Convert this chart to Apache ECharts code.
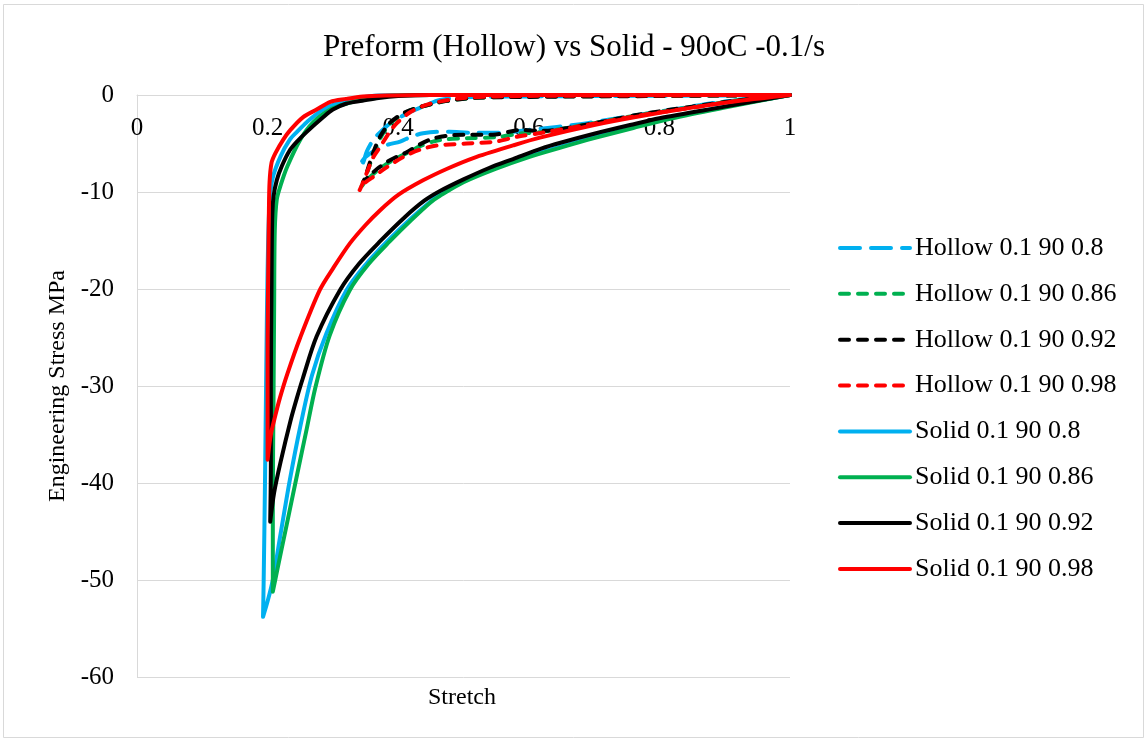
<!DOCTYPE html>
<html>
<head>
<meta charset="utf-8">
<script src="https://cdn.jsdelivr.net/npm/echarts@6/dist/echarts.min.js"></script>
<style>
  html, body { margin: 0; padding: 0; background: #ffffff; }
  #chart { width: 1148px; height: 743px; }
</style>
</head>
<body>
<div id="chart"></div>
<script>
// ---- Data (stretch, engineering stress MPa) ----
var titleText = 'Preform (Hollow) vs Solid - 90oC -0.1/s';
var xAxisName = 'Stretch';
var yAxisName = 'Engineering Stress MPa';
var seriesNames = [
  'Hollow 0.1 90 0.8', 'Hollow 0.1 90 0.86', 'Hollow 0.1 90 0.92', 'Hollow 0.1 90 0.98',
  'Solid 0.1 90 0.8', 'Solid 0.1 90 0.86', 'Solid 0.1 90 0.92', 'Solid 0.1 90 0.98'
];
var xTicks = [0, 0.2, 0.4, 0.6, 0.8, 1];
var yTicks = [-60, -50, -40, -30, -20, -10, 0];

var hollow080 = [
  [1,0],[0.9,-0.05],[0.7,-0.1],[0.6,-0.15],[0.515,-0.2],[0.464,-0.5],[0.438,-1.2],[0.42,-1.7],
  [0.408,-2.1],[0.39,-2.8],[0.373,-3.8],[0.362,-4.6],[0.352,-5.8],[0.346,-7.0],[0.34,-7.3],
  [0.35,-6.4],[0.37,-5.5],[0.385,-5.1],[0.403,-4.8],[0.42,-4.3],[0.438,-3.95],[0.46,-3.8],
  [0.479,-3.8],[0.51,-3.9],[0.551,-3.9],[0.6,-3.6],[0.643,-3.3],[0.69,-2.9],[0.744,-2.3],
  [0.82,-1.5],[0.897,-0.7],[1,0]
];
var hollow086 = [
  [1,0],[0.8,-0.1],[0.6,-0.15],[0.515,-0.3],[0.475,-0.6],[0.453,-0.9],[0.43,-1.3],[0.413,-1.75],
  [0.4,-2.3],[0.387,-3.0],[0.373,-4.4],[0.362,-6.1],[0.355,-7.5],[0.348,-8.9],[0.344,-9.4],
  [0.353,-8.7],[0.366,-7.9],[0.38,-7.2],[0.398,-6.5],[0.413,-6.0],[0.433,-5.3],[0.453,-4.8],
  [0.475,-4.55],[0.505,-4.45],[0.55,-4.35],[0.59,-3.95],[0.62,-3.8],[0.7,-2.9],[0.77,-2.05],
  [0.85,-1.25],[0.92,-0.55],[1,0]
];
var hollow092 = [
  [1,0],[0.8,-0.1],[0.6,-0.2],[0.515,-0.3],[0.475,-0.6],[0.453,-0.9],[0.43,-1.3],[0.413,-1.7],
  [0.4,-2.2],[0.387,-2.9],[0.373,-4.2],[0.362,-5.9],[0.355,-7.3],[0.349,-8.6],[0.346,-9.0],
  [0.355,-8.4],[0.368,-7.6],[0.383,-6.9],[0.4,-6.3],[0.413,-5.9],[0.433,-5.1],[0.453,-4.5],
  [0.475,-4.2],[0.5,-4.1],[0.545,-4.1],[0.587,-3.6],[0.62,-3.7],[0.7,-2.9],[0.77,-2.0],
  [0.85,-1.2],[0.92,-0.55],[1,0]
];
var hollow098 = [
  [1,0],[0.8,-0.05],[0.6,-0.1],[0.5,-0.3],[0.449,-0.9],[0.42,-1.7],[0.398,-2.9],[0.385,-4.0],
  [0.373,-5.3],[0.362,-6.4],[0.352,-8.0],[0.345,-9.2],[0.341,-9.8],
  [0.35,-9.0],[0.365,-8.3],[0.377,-7.7],[0.395,-6.9],[0.413,-6.2],[0.435,-5.6],[0.459,-5.2],
  [0.505,-5.0],[0.55,-4.8],[0.582,-4.3],[0.62,-3.9],[0.7,-2.95],[0.77,-2.1],[0.85,-1.3],
  [0.92,-0.6],[1,0]
];
var solid080 = [
  [1,0],[0.8,0],[0.6,0],[0.45,0],[0.37,-0.05],[0.34,-0.3],[0.31,-0.8],[0.285,-1.5],[0.26,-2.8],
  [0.245,-3.8],[0.234,-4.6],[0.22,-6.3],[0.208,-8.5],[0.203,-11],[0.2,-18],[0.198,-28],
  [0.196,-40],[0.194,-50],[0.193,-53.8],
  [0.2,-52.2],[0.208,-50.0],[0.22,-45.2],[0.234,-39.7],[0.25,-34.2],[0.268,-28.9],
  [0.29,-24.6],[0.321,-20.1],[0.35,-17.5],[0.383,-15.1],[0.42,-12.7],[0.449,-11.0],[0.464,-10.2],
  [0.5,-8.8],[0.55,-7.4],[0.6,-6.3],[0.65,-5.3],[0.7,-4.35],[0.76,-3.3],[0.82,-2.3],[0.9,-1.2],[1,0]
];
var solid086 = [
  [1,0],[0.8,0],[0.6,0],[0.45,0],[0.38,-0.1],[0.35,-0.4],[0.32,-0.9],[0.296,-1.5],[0.27,-2.8],
  [0.25,-4.6],[0.23,-7.4],[0.22,-9.3],[0.214,-10.8],[0.211,-14],[0.21,-22],[0.209,-32],
  [0.208,-42],[0.208,-51.2],
  [0.215,-48.9],[0.228,-44.7],[0.245,-39.2],[0.26,-34.4],[0.273,-30.2],[0.295,-24.8],[0.326,-20.1],
  [0.355,-17.4],[0.387,-15.1],[0.42,-12.9],[0.449,-11.1],[0.464,-10.4],[0.5,-9.0],[0.55,-7.6],
  [0.6,-6.4],[0.65,-5.4],[0.7,-4.45],[0.76,-3.4],[0.82,-2.4],[0.9,-1.3],[1,0]
];
var solid092 = [
  [1,0],[0.8,0],[0.6,0],[0.45,0],[0.40,-0.1],[0.37,-0.3],[0.345,-0.6],[0.32,-0.9],[0.3,-1.5],
  [0.285,-2.3],[0.26,-3.8],[0.245,-4.8],[0.234,-5.7],[0.222,-7.3],[0.214,-8.8],[0.209,-10.5],
  [0.207,-13],[0.206,-20],[0.205,-30],[0.205,-38],[0.204,-44],
  [0.21,-41],[0.22,-37.8],[0.235,-33.6],[0.245,-31.2],[0.254,-29.2],[0.275,-24.9],[0.311,-20.1],
  [0.34,-17.4],[0.372,-15.1],[0.41,-12.6],[0.44,-10.9],[0.464,-9.9],[0.5,-8.7],[0.54,-7.5],
  [0.576,-6.6],[0.62,-5.5],[0.65,-4.9],[0.7,-4.0],[0.755,-3.1],[0.8,-2.4],[0.9,-1.2],[1,0]
];
var solid098 = [
  [1,0],[0.8,0],[0.6,0],[0.45,0],[0.38,-0.05],[0.346,-0.15],[0.32,-0.4],[0.296,-0.7],[0.275,-1.5],
  [0.254,-2.3],[0.235,-3.6],[0.224,-4.6],[0.212,-6],[0.206,-7],[0.203,-9],[0.202,-12],
  [0.201,-18],[0.2,-25],[0.2,-32],[0.2,-37.6],
  [0.205,-35],[0.212,-33],[0.219,-31.2],[0.23,-28.8],[0.25,-25.0],[0.28,-20.1],[0.3,-17.9],
  [0.326,-15.3],[0.35,-13.4],[0.372,-11.9],[0.4,-10.3],[0.438,-8.8],[0.475,-7.6],[0.515,-6.5],
  [0.576,-5.2],[0.617,-4.4],[0.7,-3.1],[0.77,-2.2],[0.85,-1.3],[0.923,-0.6],[1,0]
];

var seriesData = [hollow080, hollow086, hollow092, hollow098, solid080, solid086, solid092, solid098];
var seriesColors = ['#00B0F0', '#00B050', '#000000', '#FF0000', '#00B0F0', '#00B050', '#000000', '#FF0000'];
var seriesDash = [[20, 11], [9, 9], [9, 9], [9, 9], 'solid', 'solid', 'solid', 'solid'];

var FONT = '"Liberation Serif", "Times New Roman", serif';

var chart = echarts.init(document.getElementById('chart'), null, { renderer: 'canvas' });

var series = seriesNames.map(function (name, i) {
  return {
    name: name,
    type: 'line',
    data: seriesData[i],
    showSymbol: false,
    symbol: 'none',
    smooth: 0.3,
    lineStyle: { color: seriesColors[i], width: 4, type: seriesDash[i], cap: 'round', join: 'round' },
    itemStyle: { color: seriesColors[i] },
    animation: false,
    z: 2 + i
  };
});

chart.setOption({
  backgroundColor: '#ffffff',
  animation: false,
  title: {
    text: titleText,
    left: 'center',
    top: 27,
    textStyle: { fontFamily: FONT, fontSize: 31, fontWeight: 'normal', color: '#000000' }
  },
  graphic: [{
    type: 'rect',
    shape: { x: 3.5, y: 4.5, width: 1140, height: 733 },
    style: { fill: 'none', stroke: '#d9d9d9', lineWidth: 1 },
    silent: true, z: -10
  }, {
    type: 'text',
    left: 428, top: 686,
    style: { text: xAxisName, fontFamily: FONT, fontSize: 24, fill: '#000000' },
    silent: true
  }],
  legend: {
    orient: 'vertical',
    left: 833,
    top: 230,
    itemWidth: 70,
    itemHeight: 14,
    itemGap: 19.85,
    itemStyle: { opacity: 0 },
    lineStyle: { width: 4 },
    textStyle: { fontFamily: FONT, fontSize: 26, color: '#000000' },
    data: seriesNames
  },
  grid: { left: 137, right: 358, top: 95, bottom: 66, containLabel: false },
  xAxis: {
    type: 'value',
    position: 'top',
    min: 0, max: 1, interval: 0.2,
    axisLine: { show: true, onZero: false, lineStyle: { color: '#d9d9d9', width: 1 } },
    axisTick: { show: false },
    splitLine: { show: false },
    axisLabel: {
      inside: true,
      margin: 21,
      fontFamily: FONT, fontSize: 25, color: '#000000',
      formatter: function (v) { return String(Math.round(v * 10) / 10); }
    }
  },
  yAxis: {
    type: 'value',
    min: -60, max: 0, interval: 10,
    axisLine: { show: true, onZero: false, lineStyle: { color: '#d9d9d9', width: 1 } },
    axisTick: { show: false },
    splitLine: { show: true, lineStyle: { color: '#d9d9d9', width: 1 } },
    axisLabel: { margin: 23, fontFamily: FONT, fontSize: 25, color: '#000000' },
    name: yAxisName,
    nameLocation: 'middle',
    nameRotate: 90,
    nameGap: 66,
    nameTextStyle: { fontFamily: FONT, fontSize: 24, color: '#000000' }
  },
  series: series
});
</script>
</body>
</html>
